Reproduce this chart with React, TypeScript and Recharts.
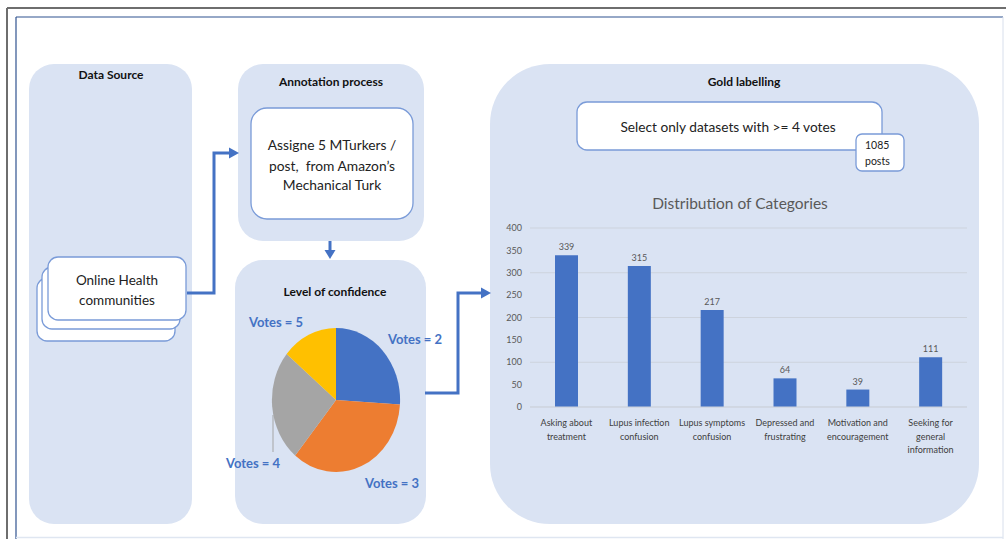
import React from "react";
import { BarChart, Bar, XAxis, YAxis, CartesianGrid, LabelList, PieChart, Pie, Cell } from "recharts";

const categories = [
  "Asking about\ntreatment",
  "Lupus infection\nconfusion",
  "Lupus symptoms\nconfusion",
  "Depressed and\nfrustrating",
  "Motivation and\nencouragement",
  "Seeking for\ngeneral\ninformation",
];
const categoryCounts = [339, 315, 217, 64, 39, 111];
const yTicks = [0, 50, 100, 150, 200, 250, 300, 350, 400];

const voteLabels = ["Votes = 2", "Votes = 3", "Votes = 4", "Votes = 5"];
const voteShares = [26, 35, 25, 14];
const voteColors = ["#4472C4", "#ED7D31", "#A5A5A5", "#FFC000"];

const barData = categories.map((c, i) => ({ name: c, value: categoryCounts[i] }));
const pieData = voteLabels.map((l, i) => ({ name: l, value: voteShares[i] }));

const FONT = "Lato, 'Open Sans', sans-serif";
const PANEL = "#DAE3F3";
const BOX_STROKE = "#7A9BD8";
const BLUE = "#4472C4";

const XTick = (props: any) => {
  const { x, y, payload } = props;
  const lines = String(payload.value).split("\n");
  return (
    <text x={x} y={y} textAnchor="middle" fontSize={9} fill="#404040" fontFamily={FONT}>
      {lines.map((l: string, i: number) => (
        <tspan key={i} x={x} dy={i === 0 ? 11 : 13.5}>
          {l}
        </tspan>
      ))}
    </text>
  );
};

export default function App() {
  return (
    <div style={{ position: "absolute", left: 0, top: 0, width: 1006, height: 539, background: "#fff", overflow: "hidden", fontFamily: FONT }}>
      <svg width={1006} height={539} style={{ position: "absolute", left: 0, top: 0 }}>
        {/* frame */}
        <line x1={7} y1={8} x2={1006} y2={8} stroke="#6e6e6e" strokeWidth={2} />
        <line x1={7} y1={8} x2={7} y2={539} stroke="#6e6e6e" strokeWidth={2} />
        <line x1={16} y1={17} x2={1003} y2={17} stroke="#2F528F" strokeWidth={1.2} />
        <line x1={16} y1={17} x2={16} y2={539} stroke="#2F528F" strokeWidth={1.2} />
        <line x1={1003} y1={17} x2={1003} y2={539} stroke="#d8dfec" strokeWidth={1} />
        <line x1={16} y1={537.5} x2={1003} y2={537.5} stroke="#dfe6f1" strokeWidth={1.5} />

        {/* panels */}
        <rect x={29} y={64} width={163} height={460} rx={25} fill={PANEL} />
        <rect x={238} y={64} width={186} height={177} rx={25} fill={PANEL} />
        <rect x={235} y={260} width={191} height={264} rx={28} fill={PANEL} />
        <rect x={490} y={64} width={489} height={460} rx={60} fill={PANEL} />

        {/* panel titles */}
        <text x={111} y={79} textAnchor="middle" fontSize={12} fontWeight="bold" fill="#111">Data Source</text>
        <text x={331} y={86} textAnchor="middle" fontSize={12} fontWeight="bold" fill="#111">Annotation process</text>
        <text x={335} y={296} textAnchor="middle" fontSize={12} fontWeight="bold" fill="#111">Level of confidence</text>
        <text x={744} y={86} textAnchor="middle" fontSize={12} fontWeight="bold" fill="#111">Gold labelling</text>

        {/* stacked cards */}
        <rect x={37} y={278} width={138} height={63} rx={10} fill="#fff" stroke={BOX_STROKE} strokeWidth={1.3} />
        <rect x={42} y={267} width={138} height={62} rx={10} fill="#fff" stroke={BOX_STROKE} strokeWidth={1.3} />
        <rect x={48} y={257} width={138} height={63} rx={10} fill="#fff" stroke={BOX_STROKE} strokeWidth={1.3} />
        <text x={117} y={285} textAnchor="middle" fontSize={13.5} fill="#222">Online Health</text>
        <text x={117} y={305} textAnchor="middle" fontSize={13.5} fill="#222">communities</text>

        {/* annotation box */}
        <rect x={251} y={108} width={162} height={111} rx={16} fill="#fff" stroke={BOX_STROKE} strokeWidth={1.3} />
        <text x={332} y={150} textAnchor="middle" fontSize={13.8} fill="#222">Assigne 5 MTurkers /</text>
        <text x={332} y={171} textAnchor="middle" fontSize={13.8} fill="#222" xmlSpace="preserve">post,  from Amazon’s</text>
        <text x={332} y={190} textAnchor="middle" fontSize={13.8} fill="#222">Mechanical Turk</text>

        {/* select box */}
        <rect x={577} y={102} width={305} height={48} rx={10} fill="#fff" stroke={BOX_STROKE} strokeWidth={1.3} />
        <text x={728} y={132} textAnchor="middle" fontSize={13.7} fill="#222">Select only datasets with &gt;= 4 votes</text>
        <rect x={856} y={134} width={48} height={37} rx={6} fill="#fff" stroke={BOX_STROKE} strokeWidth={1.3} />
        <text x={865} y={149} fontSize={10.5} fill="#222">1085</text>
        <text x={865} y={165} fontSize={10.5} fill="#222">posts</text>

        {/* chart title */}
        <text x={740} y={209} textAnchor="middle" fontSize={15.5} fill="#595959">Distribution of Categories</text>

        {/* arrows */}
        <path d="M187 293 H214 V153 H231" fill="none" stroke={BLUE} strokeWidth={3} />
        <polygon points="229,147.5 239,153 229,158.5" fill={BLUE} />
        <path d="M330 241 V251" fill="none" stroke={BLUE} strokeWidth={3} />
        <polygon points="324.5,250 335.5,250 330,259" fill={BLUE} />
        <path d="M425 393 H458 V293 H483" fill="none" stroke={BLUE} strokeWidth={3} />
        <polygon points="481,287.5 491,293 481,298.5" fill={BLUE} />
      </svg>

      {/* pie chart */}
      <div style={{ position: "absolute", left: 236, top: 300, width: 200, height: 200, transform: "scaleX(0.89)", transformOrigin: "100px 100px" }}>
        <PieChart width={200} height={200} margin={{ top: 0, right: 0, bottom: 0, left: 0 }}>
          <Pie
            data={pieData}
            dataKey="value"
            nameKey="name"
            cx={100}
            cy={100}
            outerRadius={72}
            startAngle={90}
            endAngle={-270}
            stroke="none"
            isAnimationActive={false}
          >
            {pieData.map((d, i) => (
              <Cell key={d.name} fill={voteColors[i]} />
            ))}
          </Pie>
        </PieChart>
      </div>

      {/* pie labels */}
      <svg width={1006} height={539} style={{ position: "absolute", left: 0, top: 0, pointerEvents: "none" }}>
        <line x1={273} y1={415} x2={273} y2={452} stroke="#A5A5A5" strokeWidth={1} />
        <text x={415} y={344} textAnchor="middle" fontSize={13} fontWeight="bold" fill={BLUE} fontFamily={FONT}>{voteLabels[0]}</text>
        <text x={392} y={488} textAnchor="middle" fontSize={13} fontWeight="bold" fill={BLUE} fontFamily={FONT}>{voteLabels[1]}</text>
        <text x={253} y={468} textAnchor="middle" fontSize={13} fontWeight="bold" fill={BLUE} fontFamily={FONT}>{voteLabels[2]}</text>
        <text x={276} y={327} textAnchor="middle" fontSize={13} fontWeight="bold" fill={BLUE} fontFamily={FONT}>{voteLabels[3]}</text>
      </svg>

      {/* bar chart */}
      <div style={{ position: "absolute", left: 490, top: 190, width: 487, height: 290 }}>
        <BarChart width={487} height={290} data={barData} margin={{ top: 38, right: 10, left: 0, bottom: 13 }}>
          <CartesianGrid vertical={false} stroke="#cdd3dd" />
          <XAxis dataKey="name" interval={0} tickLine={false} axisLine={{ stroke: "#cdd3dd" }} height={60} tick={<XTick />} />
          <YAxis
            width={40}
            domain={[0, 400]}
            ticks={yTicks}
            tickLine={false}
            axisLine={false}
            tick={{ fontSize: 9, fill: "#595959", fontFamily: FONT }}
          />
          <Bar dataKey="value" fill={BLUE} barSize={23} isAnimationActive={false}>
            <LabelList dataKey="value" position="top" offset={5} fontSize={9} fill="#595959" fontFamily={FONT} />
          </Bar>
        </BarChart>
      </div>
    </div>
  );
}
